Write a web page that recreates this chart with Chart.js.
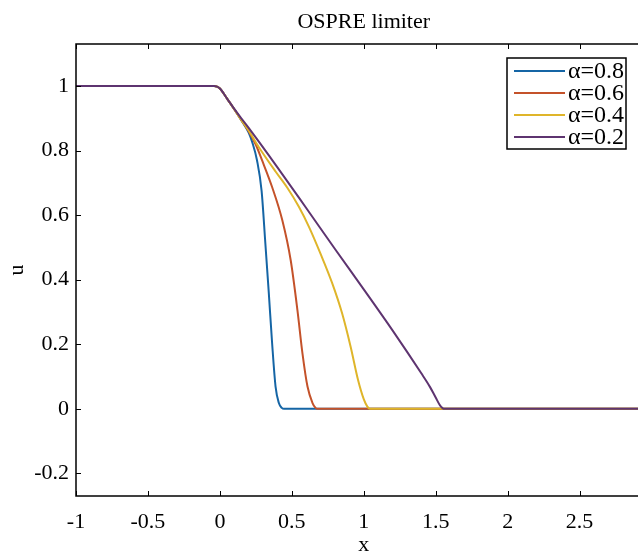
<!DOCTYPE html>
<html>
<head>
<meta charset="utf-8">
<script src="https://cdn.jsdelivr.net/npm/chart.js@4.4.1/dist/chart.umd.min.js"></script>
<style>
  html, body { margin: 0; padding: 0; background: #fff; overflow: hidden; }
  #wrap { width: 638px; height: 556px; overflow: hidden; }
</style>
</head>
<body>
<div id="wrap"><canvas id="chart" width="670" height="556"></canvas></div>
<script>
// values
const labels = ['α=0.8', 'α=0.6', 'α=0.4', 'α=0.2'];
const colors = ['#1565a5', '#c4522a', '#dfb52a', '#5e3470'];

const xA08 = [-1, -0.04, -0.02, 0, 0.05, 0.1, 0.15, 0.2, 0.225, 0.258, 0.29, 0.316, 0.34, 0.363, 0.387, 0.41, 0.43, 0.446, 3];
const uA08 = [1, 1, 0.998, 0.992, 0.961, 0.928, 0.893, 0.856, 0.826, 0.77, 0.675, 0.513, 0.359, 0.204, 0.069, 0.018, 0.003, 0, 0];

const xA06 = [-1, -0.04, -0.02, 0, 0.05, 0.1, 0.15, 0.2, 0.25, 0.293, 0.363, 0.434, 0.492, 0.539, 0.574, 0.609, 0.644, 0.665, 0.68, 3];
const uA06 = [1, 1, 0.998, 0.992, 0.961, 0.928, 0.894, 0.86, 0.818, 0.77, 0.687, 0.584, 0.461, 0.306, 0.172, 0.069, 0.018, 0.003, 0, 0];

const xA04 = [-1, -0.04, -0.02, 0, 0.05, 0.1, 0.15, 0.2, 0.27, 0.387, 0.47, 0.55, 0.62, 0.7, 0.78, 0.85, 0.91, 0.96, 1.0, 1.025, 1.043, 3];
const uA04 = [1, 1, 0.998, 0.992, 0.961, 0.928, 0.894, 0.862, 0.811, 0.735, 0.684, 0.625, 0.563, 0.48, 0.39, 0.295, 0.19, 0.09, 0.03, 0.007, 0, 0];

const xA02 = [-1, -0.04, -0.02, 0, 0.05, 0.1, 0.15, 0.2, 0.4, 0.6, 0.8, 1.0, 1.2, 1.4, 1.46, 1.5, 1.53, 1.56, 3];
const uA02 = [1, 1, 0.998, 0.992, 0.961, 0.929, 0.899, 0.87, 0.748, 0.622, 0.495, 0.37, 0.243, 0.11, 0.068, 0.035, 0.011, 0, 0];

const xTicks = [-1, -0.5, 0, 0.5, 1, 1.5, 2, 2.5, 3];
const yTicks = [-0.2, 0, 0.2, 0.4, 0.6, 0.8, 1];

const serif = 'Liberation Serif';
Chart.defaults.font.family = serif;
Chart.defaults.color = '#000';

function pts(xs, ys) {
  return xs.map((x, i) => ({ x: x, y: ys[i] }));
}
function fmt(v) {
  return String(Number(v.toFixed(2)));
}

const series = [pts(xA08, uA08), pts(xA06, uA06), pts(xA04, uA04), pts(xA02, uA02)];

// MATLAB style box, inward ticks, title and legend
const boxPlugin = {
  id: 'box',
  afterDatasetsDraw(chart) {
    const ctx = chart.ctx;
    const a = chart.chartArea;
    const xs = chart.scales.x;
    const ys = chart.scales.y;
    ctx.save();
    ctx.strokeStyle = '#000';
    ctx.lineWidth = 1.5;
    ctx.strokeRect(a.left, a.top, a.right - a.left, a.bottom - a.top);
    ctx.lineWidth = 1;
    ctx.beginPath();
    xs.ticks.forEach(t => {
      const p = Math.round(xs.getPixelForValue(t.value)) + 0.5;
      ctx.moveTo(p, a.bottom); ctx.lineTo(p, a.bottom - 5);
      ctx.moveTo(p, a.top); ctx.lineTo(p, a.top + 5);
    });
    ys.ticks.forEach(t => {
      const p = Math.round(ys.getPixelForValue(t.value)) + 0.5;
      ctx.moveTo(a.left, p); ctx.lineTo(a.left + 5, p);
      ctx.moveTo(a.right, p); ctx.lineTo(a.right - 5, p);
    });
    ctx.stroke();

    // title
    ctx.fillStyle = '#000';
    ctx.font = '22px "' + serif + '"';
    ctx.textAlign = 'center';
    ctx.textBaseline = 'alphabetic';
    ctx.fillText('OSPRE limiter', (a.left + a.right) / 2, 28);

    // legend
    const bx = 507, by = 58, bw = 119, bh = 91;
    ctx.fillStyle = '#fff';
    ctx.fillRect(bx, by, bw, bh);
    ctx.lineWidth = 1.5;
    ctx.strokeStyle = '#000';
    ctx.strokeRect(bx, by, bw, bh);
    ctx.font = '24px "' + serif + '"';
    ctx.textAlign = 'left';
    ctx.textBaseline = 'middle';
    chart.data.datasets.forEach((ds, i) => {
      const y = by + 13 + i * 22;
      ctx.strokeStyle = ds.borderColor;
      ctx.lineWidth = 2;
      ctx.beginPath();
      ctx.moveTo(bx + 7, y);
      ctx.lineTo(bx + 58, y);
      ctx.stroke();
      ctx.fillStyle = '#000';
      ctx.fillText(ds.label, bx + 61, y + 1);
    });
    ctx.restore();
  }
};

new Chart(document.getElementById('chart'), {
  type: 'line',
  data: {
    datasets: series.map((d, i) => ({
      label: labels[i],
      data: d,
      borderColor: colors[i],
      borderWidth: 2,
      pointRadius: 0,
      fill: false,
      cubicInterpolationMode: 'monotone',
      order: 4 - i
    }))
  },
  options: {
    responsive: false,
    animation: false,
    layout: { padding: { top: 44, left: 0, right: 0, bottom: 0 } },
    plugins: {
      legend: { display: false },
      title: { display: false },
      tooltip: { enabled: false }
    },
    scales: {
      x: {
        type: 'linear',
        min: -1,
        max: 3,
        grid: { display: false, drawTicks: false },
        border: { display: false },
        afterBuildTicks: s => { s.ticks = xTicks.map(v => ({ value: v })); },
        afterFit: s => { s.height = 60; },
        ticks: {
          padding: 13,
          maxRotation: 0,
          autoSkip: false,
          font: { size: 22 },
          callback: v => fmt(v)
        },
        title: {
          display: true,
          text: 'x',
          font: { size: 22 },
          padding: { top: 0, bottom: -2 }
        }
      },
      y: {
        type: 'linear',
        min: -0.27,
        max: 1.13,
        grid: { display: false, drawTicks: false },
        border: { display: false },
        afterBuildTicks: s => { s.ticks = yTicks.map(v => ({ value: v })); },
        afterFit: s => { s.width = 76; },
        ticks: {
          padding: 7,
          autoSkip: false,
          font: { size: 22 },
          callback: v => fmt(v)
        },
        title: {
          display: true,
          text: 'u',
          font: { size: 22 },
          padding: { top: 4, bottom: 0 }
        }
      }
    }
  },
  plugins: [boxPlugin]
});
</script>
</body>
</html>
